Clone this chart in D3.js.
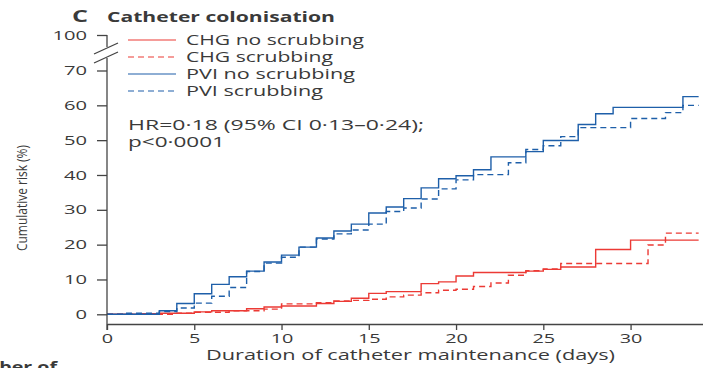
<!DOCTYPE html>
<html>
<head>
<meta charset="utf-8">
<script src="https://cdn.jsdelivr.net/npm/d3@7"></script>
<style>
  body { margin: 0; background: #fff; }
  svg { display: block; }
  text { font-family: "Open Sans", "DejaVu Sans", sans-serif; fill: #3a3a3a; }
</style>
</head>
<body>
<svg id="chart" width="703" height="368"></svg>
<script>
// hodnoty (dny, kumulativní riziko v %)
var chgNoDays   = [0, 2, 3, 5, 6, 8, 9, 10, 12, 13, 14, 15, 16, 18, 19, 20, 21, 24, 25, 26, 28, 30]
var chgNoRisk   = [0, 0.2, 0.3, 0.7, 1.0, 1.6, 2.1, 2.4, 3.1, 3.7, 4.6, 6.0, 6.5, 8.8, 9.3, 11.0, 12.0, 12.4, 12.9, 13.6, 18.6, 21.3]
var chgScrDays  = [0, 4, 5, 7, 9, 10, 12, 13, 14, 15, 16, 17, 18, 19, 20, 21, 22, 23, 24, 25, 26, 31, 32]
var chgScrRisk  = [0, 0.3, 0.6, 1.0, 1.5, 3.0, 3.3, 3.8, 4.0, 4.3, 5.0, 5.5, 6.2, 6.9, 7.2, 8.0, 9.0, 11.2, 12.5, 13.0, 14.6, 19.9, 23.3]
var pviNoDays   = [0, 3, 4, 5, 6, 7, 8, 9, 10, 11, 12, 13, 14, 15, 16, 17, 18, 19, 20, 21, 22, 24, 25, 27, 28, 29, 33]
var pviNoRisk   = [0, 1.0, 3.1, 5.9, 8.6, 10.8, 12.4, 15.0, 17.0, 19.3, 21.9, 23.9, 25.9, 29.1, 30.8, 33.2, 36.3, 38.9, 39.8, 41.5, 45.2, 46.7, 49.9, 54.5, 57.6, 59.4, 62.5]
var pviScrDays  = [0, 1, 3, 4, 5, 6, 7, 8, 9, 10, 11, 12, 13, 14, 15, 16, 17, 18, 19, 20, 21, 23, 24, 25, 26, 27, 30, 32, 33]
var pviScrRisk  = [0, 0.3, 0.8, 1.8, 3.2, 5.2, 7.7, 12.3, 14.7, 16.4, 19.3, 21.6, 23.1, 24.2, 25.9, 29.5, 30.5, 33.1, 36.0, 38.6, 40.1, 43.5, 47.3, 48.4, 51.0, 53.6, 56.2, 57.9, 60.0]

var seriesNames = ["CHG no scrubbing", "CHG scrubbing", "PVI no scrubbing", "PVI scrubbing"]
var xTicks = [0, 5, 10, 15, 20, 25, 30]
var yTicks = [0, 10, 20, 30, 40, 50, 60, 70, 100]
var lastDay = 33.9

var red = "#ec3a35", blue = "#1e5fa9"
var serie = [
  {name: seriesNames[0], days: chgNoDays,  risk: chgNoRisk,  color: red,  dash: null,  w: 178},
  {name: seriesNames[1], days: chgScrDays, risk: chgScrRisk, color: red,  dash: "6,4", w: 147},
  {name: seriesNames[2], days: pviNoDays,  risk: pviNoRisk,  color: blue, dash: null,  w: 169},
  {name: seriesNames[3], days: pviScrDays, risk: pviScrRisk, color: blue, dash: "6,4", w: 137}
]

// text v originále je vodorovně roztažený
function roztahni(sel, sirka) {
  sel.attr("textLength", sirka).attr("lengthAdjust", "spacingAndGlyphs")
}
function roztahniKrat(sel, k) {
  sel.each(function() {
    var w = this.getComputedTextLength()
    d3.select(this).attr("textLength", w * k).attr("lengthAdjust", "spacingAndGlyphs")
  })
}

var svg = d3.select("#chart")

var x = d3.scaleLinear().domain([0, 34.15]).range([107, 703])
// osa y s přerušením mezi 70 a 100
var y = d3.scaleLinear().domain([0, 70, 100]).range([314.3, 70.5, 35])
var xAxisY = 324

// křivky
var line = d3.line()
  .x(function(d) { return x(d[0]) })
  .y(function(d) { return y(d[1]) })
  .curve(d3.curveStepAfter)

serie.forEach(function(s) {
  var pts = s.days.map(function(d, i) { return [d, s.risk[i]] })
  pts.push([lastDay, s.risk[s.risk.length - 1]])
  svg.append("path")
    .attr("d", line(pts))
    .attr("fill", "none")
    .attr("stroke", s.color)
    .attr("stroke-width", 1.4)
    .attr("stroke-dasharray", s.dash)
})

// osa x
var xAxis = svg.append("g")
  .attr("transform", "translate(0," + xAxisY + ")")
  .call(d3.axisBottom(x).tickValues(xTicks).tickSize(6).tickPadding(4).tickSizeOuter(0))
xAxis.select(".domain").attr("stroke", "#444").attr("stroke-width", 1.3)
xAxis.selectAll(".tick line").attr("stroke", "#444").attr("stroke-width", 1.3)
xAxis.selectAll("text").attr("font-size", 12).attr("fill", "#3a3a3a")
  .attr("font-family", "Open Sans, sans-serif")
roztahniKrat(xAxis.selectAll("text"), 1.65)

// osa y
var yAxis = svg.append("g")
  .attr("transform", "translate(107,0)")
  .call(d3.axisLeft(y).tickValues(yTicks).tickSize(10).tickPadding(10))
yAxis.select(".domain").remove()
yAxis.selectAll(".tick line").attr("stroke", "#444").attr("stroke-width", 1.3)
yAxis.selectAll("text").attr("font-size", 13).attr("fill", "#3a3a3a")
  .attr("font-family", "Open Sans, sans-serif")
roztahniKrat(yAxis.selectAll("text"), 1.55)

// čára osy y s přerušením
svg.append("line").attr("x1", 107).attr("x2", 107).attr("y1", y(100)).attr("y2", 47)
  .attr("stroke", "#444").attr("stroke-width", 1.3)
svg.append("line").attr("x1", 107).attr("x2", 107).attr("y1", 58).attr("y2", 330)
  .attr("stroke", "#444").attr("stroke-width", 1.3)
svg.append("line").attr("x1", 94).attr("y1", 54).attr("x2", 118).attr("y2", 43)
  .attr("stroke", "#444").attr("stroke-width", 1.3)
svg.append("line").attr("x1", 94).attr("y1", 63).attr("x2", 118).attr("y2", 52)
  .attr("stroke", "#444").attr("stroke-width", 1.3)

// nadpis
svg.append("text").attr("x", 72).attr("y", 22).attr("font-size", 16).attr("font-weight", "bold")
  .attr("fill", "#222").text("C").call(roztahni, 16)
svg.append("text").attr("x", 107).attr("y", 22).attr("font-size", 14).attr("font-weight", "bold")
  .attr("fill", "#222").text("Catheter colonisation").call(roztahni, 228)

// legenda
var leg = svg.selectAll("g.leg").data(serie).enter().append("g").attr("class", "leg")
leg.append("line")
  .attr("x1", 128).attr("x2", 176)
  .attr("y1", function(d, i) { return 40 + i * 17 })
  .attr("y2", function(d, i) { return 40 + i * 17 })
  .attr("stroke", function(d) { return d.color })
  .attr("stroke-width", 1.2)
  .attr("stroke-dasharray", function(d) { return d.dash })
leg.append("text")
  .attr("x", 186)
  .attr("y", function(d, i) { return 40 + i * 17 })
  .attr("dy", "0.35em")
  .attr("font-size", 14)
  .attr("textLength", function(d) { return d.w })
  .attr("lengthAdjust", "spacingAndGlyphs")
  .text(function(d) { return d.name })

svg.append("text").attr("x", 128).attr("y", 130).attr("font-size", 14)
  .text("HR=0·18 (95% CI 0·13–0·24);").call(roztahni, 296)
svg.append("text").attr("x", 128).attr("y", 147).attr("font-size", 14)
  .text("p<0·0001").call(roztahni, 97)

// popisky os
svg.append("text")
  .attr("transform", "translate(27,198) rotate(-90)")
  .attr("text-anchor", "middle")
  .attr("font-size", 14)
  .text("Cumulative risk (%)").call(roztahni, 106)
svg.append("text").attr("x", 206).attr("y", 360)
  .attr("font-size", 14).text("Duration of catheter maintenance (days)").call(roztahni, 409)
var num = svg.append("text").attr("x", 57).attr("y", 372).attr("text-anchor", "end")
  .attr("font-size", 14).attr("font-weight", "bold").attr("fill", "#222").text("Number of")
roztahniKrat(num, 1.4)
</script>
</body>
</html>
